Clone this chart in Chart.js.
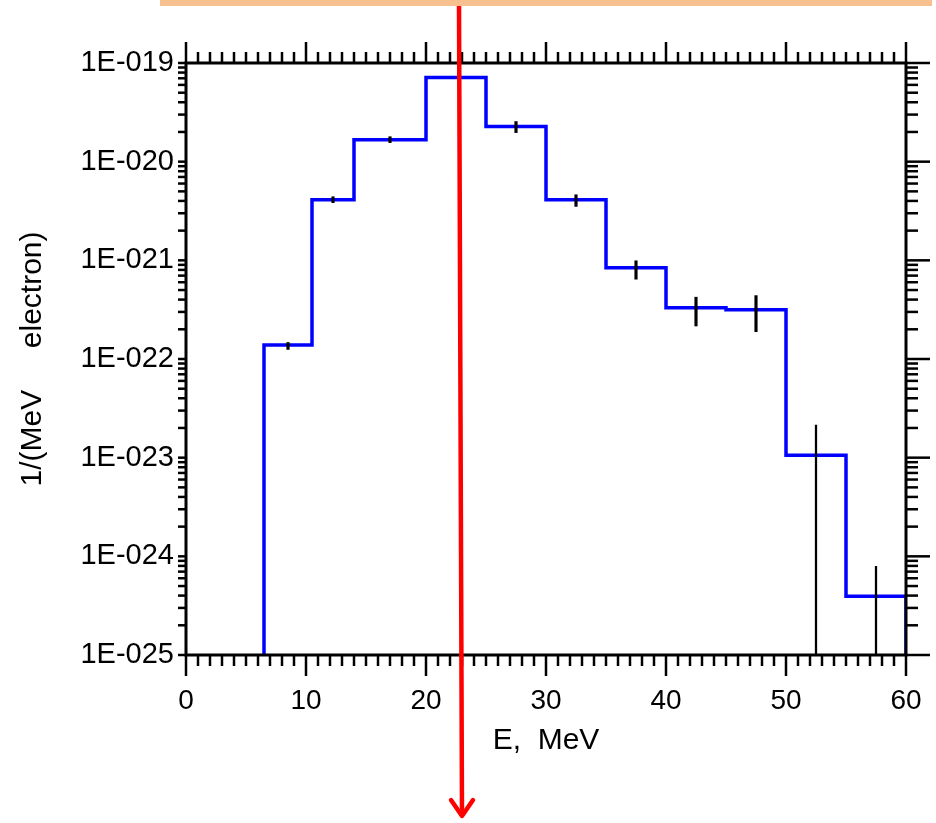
<!DOCTYPE html>
<html>
<head>
<meta charset="utf-8">
<script src="https://cdn.jsdelivr.net/npm/chart.js@4.4.1/dist/chart.umd.min.js"></script>
<style>
html,body{margin:0;padding:0;background:#fff;}
#wrap{width:936px;height:823px;position:relative;}
canvas{display:block;}
</style>
</head>
<body>
<div id="wrap"><canvas id="c" width="936" height="823"></canvas></div>
<script>
// ---- data ----
const binEdges  = [6.5, 10.5, 14, 20, 25, 30, 35, 40, 45, 50, 55, 60];
const binValues = [1.39e-22, 4.11e-21, 1.67e-20, 7.13e-20, 2.27e-20, 4.11e-21, 8.39e-22, 3.30e-22, 3.16e-22, 1.06e-23, 3.93e-25];
const floorValue = 1e-25;

const errX    = [8.5, 12.25, 17, 27.5, 32.5, 37.5, 42.5, 47.5, 52.5, 57.5];
const errLow  = [1.25e-22, 3.84e-21, 1.56e-20, 1.97e-20, 3.52e-21, 6.44e-22, 2.16e-22, 1.89e-22, 1e-27, 1e-27];
const errHigh = [1.47e-22, 4.41e-21, 1.79e-20, 2.55e-20, 4.62e-21, 9.89e-22, 4.23e-22, 4.39e-22, 2.14e-23, 7.9e-25];

const xTicks      = [0, 10, 20, 30, 40, 50, 60];
const xTickLabels = ['0', '10', '20', '30', '40', '50', '60'];
const yTicks      = [1e-25, 1e-24, 1e-23, 1e-22, 1e-21, 1e-20, 1e-19];
const yTickLabels = ['1E-025', '1E-024', '1E-023', '1E-022', '1E-021', '1E-020', '1E-019'];

const xTitle = 'E,  MeV';
const yTitle = '1/(MeV     electron)';

// ---- build datasets from the arrays ----
const stepPoints = [{x: binEdges[0], y: floorValue}];
binValues.forEach((v, i) => stepPoints.push({x: binEdges[i], y: v}));
stepPoints.push({x: binEdges[binEdges.length - 1], y: floorValue});

const errPoints = errX.map((x, i) => ({x: x, y: [errLow[i], errHigh[i]]}));
// error bars reaching below the axis are drawn with a thinner line
const errBounded   = errPoints.filter((p, i) => errLow[i] >= floorValue);
const errUnbounded = errPoints.filter((p, i) => errLow[i] < floorValue);

const FONT = "'Liberation Sans', Arial, sans-serif";

const frameTicks = {
  id: 'frameTicks',
  afterDatasetsDraw(chart) {
    const ctx = chart.ctx;
    const {left, right, top, bottom} = chart.chartArea;
    const xs = chart.scales.x, ys = chart.scales.y;
    ctx.save();
    ctx.strokeStyle = '#000';
    ctx.lineCap = 'butt';
    ctx.lineWidth = 3;
    ctx.strokeRect(left, top, right - left, bottom - top);
    ctx.lineWidth = 2.5;
    const line = (x1, y1, x2, y2) => { ctx.beginPath(); ctx.moveTo(x1, y1); ctx.lineTo(x2, y2); ctx.stroke(); };
    for (let v = xs.min; v <= xs.max + 1e-9; v += 1) {
      const px = xs.getPixelForValue(v);
      const major = Math.round(v) % 10 === 0;
      const len = major ? 21 : 11;
      line(px, bottom, px, bottom + len);
      line(px, top, px, top - len);
    }
    for (let e = -25; e <= -19; e++) {
      for (let k = 1; k <= 9; k++) {
        const v = k * Math.pow(10, e);
        if (v > ys.max * 1.0001) break;
        const py = ys.getPixelForValue(v);
        line(left - 8, py, left, py);
        line(right, py, right + (k === 1 ? 24 : 12), py);
      }
    }
    ctx.restore();
  }
};

const annotations = {
  id: 'annotations',
  afterDraw(chart) {
    const ctx = chart.ctx;
    ctx.save();
    // red arrow
    ctx.strokeStyle = '#ff0000';
    ctx.lineWidth = 4.5;
    ctx.lineCap = 'round';
    ctx.lineJoin = 'round';
    ctx.beginPath();
    ctx.moveTo(459, 4);
    ctx.lineTo(462, 815);
    ctx.stroke();
    ctx.beginPath();
    ctx.moveTo(451, 800);
    ctx.lineTo(462, 816);
    ctx.lineTo(473, 800);
    ctx.stroke();
    // orange band at top
    ctx.fillStyle = '#f8c08f';
    ctx.fillRect(160, 0, 772, 6);
    ctx.restore();
  }
};

new Chart(document.getElementById('c'), {
  type: 'line',
  data: {
    datasets: [
      {
        type: 'bar',
        label: 'errors',
        data: errBounded,
        backgroundColor: '#000',
        borderWidth: 0,
        barThickness: 2.5,
        grouped: false,
        order: 0
      },
      {
        type: 'bar',
        label: 'errors (open)',
        data: errUnbounded,
        backgroundColor: '#000',
        borderWidth: 0,
        barThickness: 1.6,
        grouped: false,
        order: 0
      },
      {
        type: 'line',
        label: 'spectrum',
        data: stepPoints,
        stepped: true,
        borderColor: '#0000ff',
        borderWidth: 3.5,
        pointRadius: 0,
        fill: false,
        tension: 0,
        order: 1
      }
    ]
  },
  options: {
    responsive: false,
    devicePixelRatio: 1,
    animation: false,
    layout: {padding: {left: 0, top: 63, right: 30, bottom: 0}},
    plugins: {legend: {display: false}, tooltip: {enabled: false}},
    scales: {
      x: {
        type: 'linear',
        min: 0, max: 60,
        offset: false,
        grid: {display: false, drawTicks: false, offset: false},
        border: {display: false},
        afterBuildTicks: (s) => { s.ticks = xTicks.map(v => ({value: v})); },
        afterFit: (s) => { s.height = 168; s.paddingLeft = 0; s.paddingRight = 0; },
        ticks: {
          callback: (v, i) => xTickLabels[i],
          font: {family: FONT, size: 28},
          color: '#000',
          padding: 29,
          maxRotation: 0,
          autoSkip: false
        },
        title: {
          display: true, text: xTitle,
          font: {family: FONT, size: 30},
          color: '#000',
          padding: {top: 0, bottom: 64}
        }
      },
      y: {
        type: 'logarithmic',
        min: 1e-25, max: 1e-19,
        grid: {display: false, drawTicks: false},
        border: {display: false},
        afterBuildTicks: (s) => { s.ticks = yTicks.map(v => ({value: v})); },
        afterFit: (s) => { s.width = 186; s.paddingTop = 0; s.paddingBottom = 0; },
        ticks: {
          callback: (v, i) => yTickLabels[i],
          font: {family: FONT, size: 29},
          color: '#000',
          padding: 12,
          autoSkip: false
        },
        title: {
          display: true, text: yTitle,
          font: {family: FONT, size: 30},
          color: '#000',
          padding: {top: 15, bottom: 0}
        }
      }
    }
  },
  plugins: [frameTicks, annotations]
});
</script>
</body>
</html>
